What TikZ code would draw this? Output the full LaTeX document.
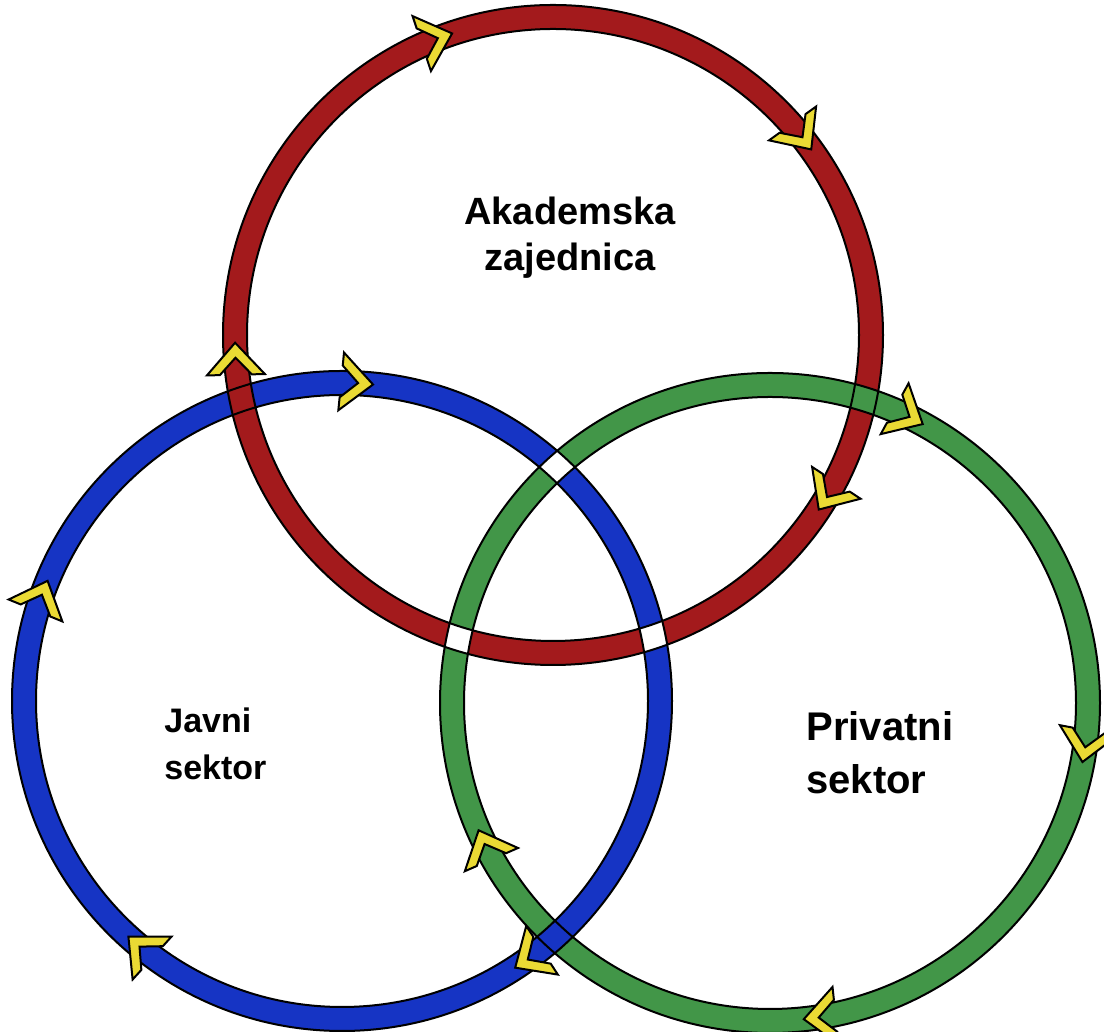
\documentclass[tikz,border=0pt]{standalone}
\usepackage{fontspec}
\setmainfont{Liberation Sans}

\definecolor{ringred}{RGB}{163,26,28}
\definecolor{ringblue}{RGB}{22,52,196}
\definecolor{ringgreen}{RGB}{66,150,72}
\definecolor{chevyellow}{RGB}{234,218,52}

% one ring as a band between two circles
\newcommand{\band}[1]{(#1) circle[radius=330] (#1) circle[radius=306]}

\begin{document}
\begin{tikzpicture}[x=0.5pt, y=0.5pt, font=\bfseries\fontsize{19}{23}\selectfont,
	chevron/.style={draw=black, line width=1pt, fill=chevyellow, line join=miter},
	edge/.style={draw=black, line width=1pt}]
	\useasboundingbox (0,0) rectangle (1104,1032);
	%centres
	\coordinate (red) at (553,697);
	\coordinate (blue) at (342,331);
	\coordinate (green) at (770,329);
	%rings
	\fill[ringgreen, even odd rule] \band{green};
	\fill[ringblue, even odd rule] \band{blue};
	\fill[ringred, even odd rule] \band{red};
	%green over red on the right
	\begin{scope}[even odd rule]
		\clip (864,633) circle[radius=45];
		\clip \band{red};
		\fill[ringgreen] \band{green};
	\end{scope}
	%white crossings inside
	\foreach \x/\y/\a/\b in {556/565/blue/green, 458/393/red/green, 654/395/red/blue}
	{
		\begin{scope}[even odd rule]
			\clip (\x,\y) circle[radius=45];
			\clip \band{\a};
			\fill[white] \band{\b};
		\end{scope}
	}
	%edges
	\foreach \c in {red,blue,green}
	\draw[edge] (\c) circle[radius=330] (\c) circle[radius=306];
	%arrows
	\foreach \c/\a in {red/108.5, red/35.7, red/-33.3, red/181.4,
		blue/84.4, blue/157.8, blue/227.8, blue/303,
		green/61.3, green/-10.7, green/-83.9, green/203.6}
	\draw[chevron, shift={(\c)}, rotate=\a]
	(289,32) -- (318,0) -- (347,32) -- (334,32) -- (318,15) -- (302,32) -- cycle;
	%labels
	\node[align=center, inner sep=0] (akad) at (570,794) {Akademska\\zajednica};
	\node[align=left, anchor=west, inner sep=0, font=\bfseries\fontsize{17}{23.5}\selectfont]
	(javni) at (164,288) {Javni\\sektor};
	\node[align=left, anchor=west, inner sep=0, font=\bfseries\fontsize{20}{26.5}\selectfont]
	(privat) at (806,279) {Privatni\\sektor};
\end{tikzpicture}
\end{document}
